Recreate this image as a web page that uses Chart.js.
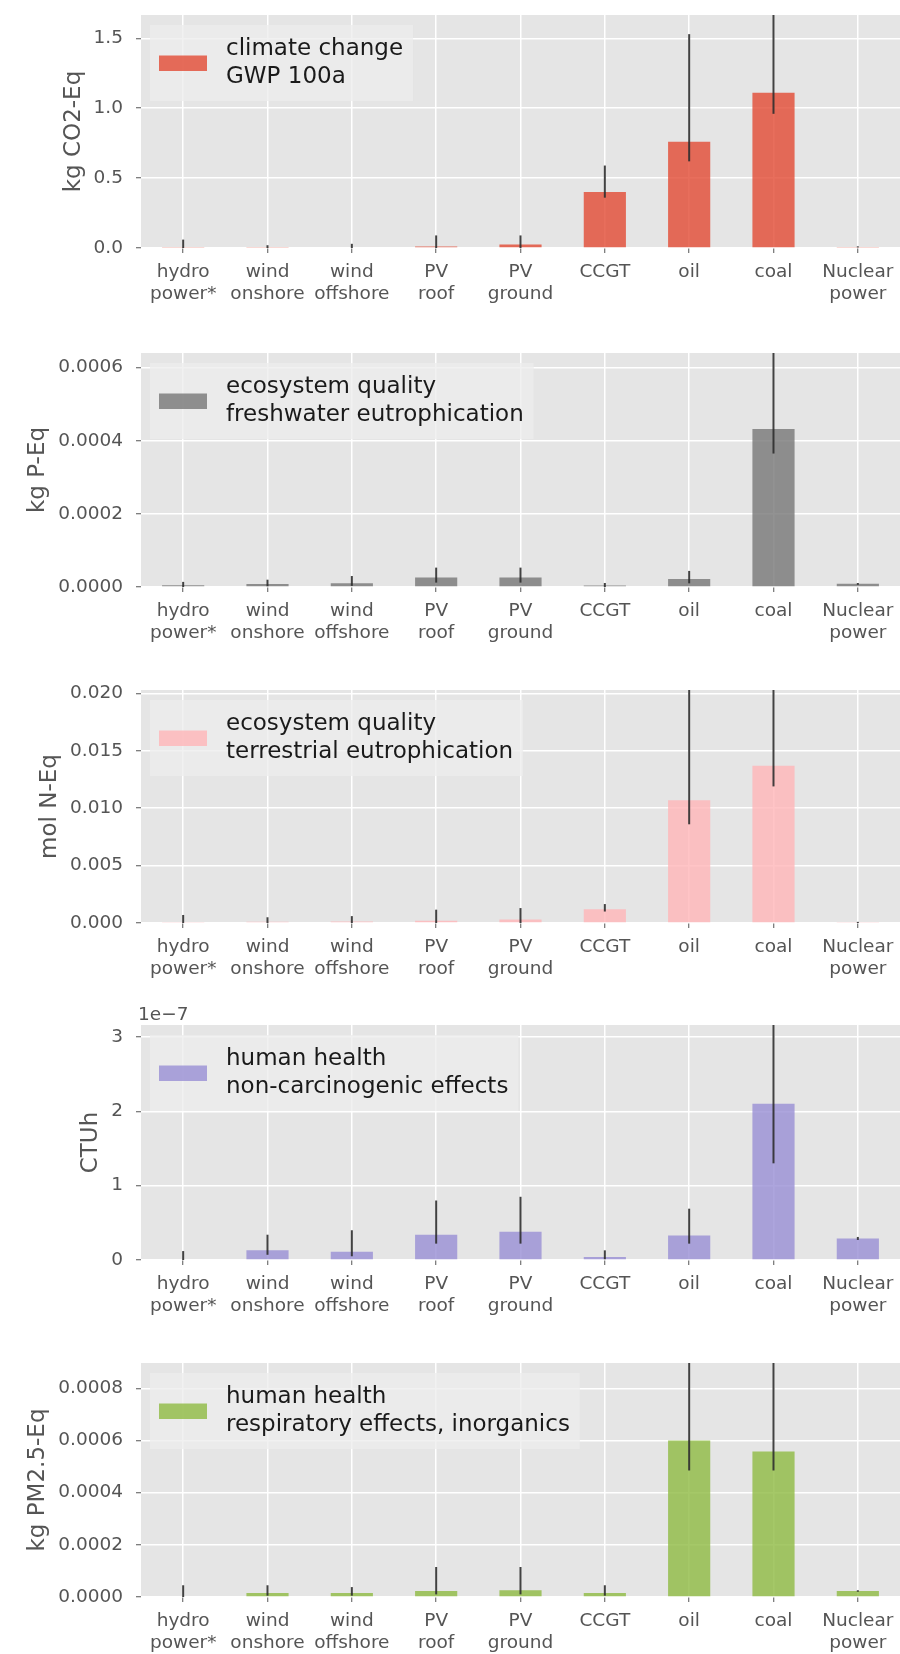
<!DOCTYPE html>
<html>
<head>
<meta charset="utf-8">
<script src="https://cdn.jsdelivr.net/npm/chart.js@4"></script>
<style>
  html, body { margin: 0; padding: 0; background: #ffffff; }
  body { width: 900px; height: 1654px; position: relative; overflow: hidden; }
  .panel { position: absolute; left: 0; width: 900px; }
</style>
</head>
<body>
<div class="panel" id="p1"></div>
<div class="panel" id="p2"></div>
<div class="panel" id="p3"></div>
<div class="panel" id="p4"></div>
<div class="panel" id="p5"></div>
<script>
// categories shared by all five panels
const categories = [
  ['hydro', 'power*'], ['wind', 'onshore'], ['wind', 'offshore'],
  ['PV', 'roof'], ['PV', 'ground'], ['CCGT'], ['oil'], ['coal'], ['Nuclear', 'power']
];

// climate change, kg CO2-Eq
const co2 = [0.003, 0.008, 0.006, 0.01, 0.025, 0.40, 0.76, 1.11, 0.008];
const co2Low = [0, 0, 0, 0, 0, 0.36, 0.62, 0.96, 0.004];
const co2High = [0.06, 0.02, 0.03, 0.09, 0.09, 0.59, 1.53, 1.9, 0.012];

// freshwater eutrophication, kg P-Eq
const pEq = [0.000005, 0.000008, 0.00001, 0.000026, 0.000026, 0.000004, 0.000022, 0.000432, 0.000009];
const pLow = [0, 0.000002, 0.000003, 0.000012, 0.000012, 0, 0.00001, 0.000365, 0.000006];
const pHigh = [0.000014, 0.00002, 0.00003, 0.000053, 0.000053, 0.000011, 0.000044, 0.0008, 0.000011];

// terrestrial eutrophication, mol N-Eq
const nEq = [0.00005, 0.0001, 0.00012, 0.0002, 0.0003, 0.0012, 0.0107, 0.0137, 0.00005];
const nLow = [0, 0, 0, 0, 0, 0.001, 0.0086, 0.0119, 0];
const nHigh = [0.0007, 0.0005, 0.0006, 0.00116, 0.0013, 0.00165, 0.025, 0.025, 0.0001];

// non-carcinogenic effects, CTUh
const ctuh = [0.01e-7, 0.13e-7, 0.11e-7, 0.34e-7, 0.38e-7, 0.04e-7, 0.33e-7, 2.1e-7, 0.29e-7];
const ctuhLow = [0, 0.07e-7, 0.05e-7, 0.22e-7, 0.22e-7, 0.01e-7, 0.22e-7, 1.3e-7, 0.27e-7];
const ctuhHigh = [0.12e-7, 0.34e-7, 0.40e-7, 0.80e-7, 0.85e-7, 0.13e-7, 0.69e-7, 3.5e-7, 0.31e-7];

// respiratory effects, kg PM2.5-Eq
const pm = [0.000003, 0.000015, 0.000015, 0.000023, 0.000026, 0.000015, 0.0006, 0.000558, 0.000023];
const pmLow = [0, 0.000005, 0.000005, 0.00001, 0.00001, 0.000005, 0.000485, 0.000485, 0.00002];
const pmHigh = [0.000045, 0.000045, 0.000038, 0.000115, 0.000115, 0.000045, 0.0012, 0.0012, 0.000026];

// legend texts
const co2Legend = ['climate change', 'GWP 100a'];
const pLegend = ['ecosystem quality', 'freshwater eutrophication'];
const nLegend = ['ecosystem quality', 'terrestrial eutrophication'];
const ctuhLegend = ['human health', 'non-carcinogenic effects'];
const pmLegend = ['human health', 'respiratory effects, inorganics'];

Chart.defaults.font.family = "'DejaVu Sans', sans-serif";
Chart.defaults.color = '#555555';

const PAD_TOP = 24, X_AXIS_H = 58, AXIS_LEFT = 141;
const TICK_FONT = 18.5, BIG_FONT = 23;

const panels = [
  { wrap: 'p1', plotTop: 15, plotH: 233, yMax: 1.667, step: 0.5, fmt: v => v.toFixed(1),
    color: 'rgba(226,74,51,0.8)', title: 'kg CO2-Eq', legend: co2Legend, values: co2, low: co2Low, high: co2High },
  { wrap: 'p2', plotTop: 353, plotH: 234, yMax: 0.00064, step: 0.0002, fmt: v => v.toFixed(4),
    color: 'rgba(119,119,119,0.8)', title: 'kg P-Eq', legend: pLegend, values: pEq, low: pLow, high: pHigh },
  { wrap: 'p3', plotTop: 690, plotH: 233, yMax: 0.0203, step: 0.005, fmt: v => v.toFixed(3),
    color: 'rgba(255,181,184,0.8)', title: 'mol N-Eq', legend: nLegend, values: nEq, low: nLow, high: nHigh },
  { wrap: 'p4', plotTop: 1025, plotH: 235, yMax: 3.16e-7, step: 1e-7, fmt: v => String(Math.round(v / 1e-7)),
    offsetText: '1e\u22127',
    color: 'rgba(152,142,213,0.8)', title: 'CTUh', legend: ctuhLegend, values: ctuh, low: ctuhLow, high: ctuhHigh },
  { wrap: 'p5', plotTop: 1363, plotH: 234, yMax: 0.000897, step: 0.0002, fmt: v => v.toFixed(4),
    color: 'rgba(142,186,66,0.8)', title: 'kg PM2.5-Eq', legend: pmLegend, values: pm, low: pmLow, high: pmHigh }
];

function makePanel(p) {
  const wrap = document.getElementById(p.wrap);
  const h = PAD_TOP + p.plotH + X_AXIS_H;
  wrap.style.top = (p.plotTop - PAD_TOP) + 'px';
  wrap.style.height = h + 'px';
  const canvas = document.createElement('canvas');
  canvas.width = 900;
  canvas.height = h;
  canvas.style.width = '900px';
  canvas.style.height = h + 'px';
  wrap.appendChild(canvas);

  // grey ggplot-like plot background
  const panelBg = {
    id: 'panelBg',
    beforeDraw(chart) {
      const { ctx, chartArea: a } = chart;
      ctx.save();
      ctx.fillStyle = '#E5E5E5';
      ctx.fillRect(a.left, a.top, a.right - a.left, a.bottom - a.top);
      ctx.restore();
    }
  };

  // faint legend frame above the grid, below the bars
  const legendBox = {
    id: 'legendBox',
    beforeDatasetsDraw(chart) {
      const { ctx, chartArea: a } = chart;
      ctx.save();
      ctx.font = BIG_FONT + "px 'DejaVu Sans'";
      const w = Math.max(...p.legend.map(t => ctx.measureText(t).width));
      ctx.fillStyle = 'rgba(236,236,236,0.75)';
      ctx.fillRect(a.left + 9, a.top + 10, 85 - 9 + w + 10, 76);
      ctx.restore();
    }
  };

  // asymmetric error bars from the low/high arrays, then the legend
  const errorBars = {
    id: 'errorBars',
    afterDatasetsDraw(chart) {
      const { ctx, chartArea: a, scales: { x, y } } = chart;
      ctx.save();
      ctx.beginPath();
      ctx.rect(a.left, a.top, a.right - a.left, a.bottom - a.top);
      ctx.clip();
      ctx.strokeStyle = 'rgba(45,45,45,0.9)';
      ctx.lineWidth = 2;
      p.values.forEach((v, i) => {
        const px = x.getPixelForValue(i);
        ctx.beginPath();
        ctx.moveTo(px, y.getPixelForValue(p.low[i]));
        ctx.lineTo(px, y.getPixelForValue(p.high[i]));
        ctx.stroke();
      });
      ctx.restore();

      ctx.save();
      ctx.fillStyle = p.color;
      ctx.fillRect(a.left + 18, a.top + 40.5, 48, 15.5);
      ctx.fillStyle = '#1a1a1a';
      ctx.font = BIG_FONT + "px 'DejaVu Sans'";
      ctx.textAlign = 'left';
      ctx.textBaseline = 'alphabetic';
      ctx.fillText(p.legend[0], a.left + 85, a.top + 40);
      ctx.fillText(p.legend[1], a.left + 85, a.top + 68);
      ctx.restore();
    }
  };

  // y title next to the tick labels, plus the 1e-7 offset text
  const yTitle = {
    id: 'yTitle',
    afterDraw(chart) {
      const { ctx, chartArea: a, scales: { y } } = chart;
      ctx.save();
      ctx.font = TICK_FONT + "px 'DejaVu Sans'";
      const maxW = Math.max(...y.ticks.map(t => ctx.measureText(String(t.label)).width));
      const tickLeft = a.left - 5 - 13 - maxW;
      if (p.offsetText) {
        ctx.fillStyle = '#555555';
        ctx.textAlign = 'left';
        ctx.textBaseline = 'middle';
        ctx.fillText(p.offsetText, a.left - 3, a.top - 10);
      }
      ctx.translate(tickLeft - 14, (a.top + a.bottom) / 2);
      ctx.rotate(-Math.PI / 2);
      ctx.font = BIG_FONT + "px 'DejaVu Sans'";
      ctx.fillStyle = '#555555';
      ctx.textAlign = 'center';
      ctx.textBaseline = 'alphabetic';
      ctx.fillText(p.title, 0, 0);
      ctx.restore();
    }
  };

  return new Chart(canvas.getContext('2d'), {
    type: 'bar',
    data: {
      labels: categories,
      datasets: [{
        data: p.values,
        backgroundColor: p.color,
        borderWidth: 0,
        barPercentage: 0.5,
        categoryPercentage: 1.0
      }]
    },
    options: {
      responsive: false,
      animation: false,
      devicePixelRatio: 1,
      layout: { padding: { top: PAD_TOP, left: 0, right: 0, bottom: 0 } },
      plugins: {
        legend: { display: false },
        tooltip: { enabled: false }
      },
      scales: {
        x: {
          type: 'category',
          offset: true,
          border: { display: false },
          grid: { offset: false, color: '#FFFFFF', lineWidth: 1.5, tickColor: '#555555', tickLength: 5, tickWidth: 1 },
          ticks: {
            autoSkip: false, maxRotation: 0, minRotation: 0, padding: 9,
            font: { size: TICK_FONT, lineHeight: 1.15 }, color: '#555555'
          },
          afterFit(scale) {
            scale.height = X_AXIS_H;
            scale.paddingLeft = 0;
            scale.paddingRight = 0;
          }
        },
        y: {
          min: 0,
          max: p.yMax,
          border: { display: false },
          grid: { color: '#FFFFFF', lineWidth: 1.5, tickColor: '#555555', tickLength: 5, tickWidth: 1 },
          ticks: {
            stepSize: p.step, includeBounds: false, padding: 13,
            font: { size: TICK_FONT }, color: '#555555',
            callback: v => p.fmt(v)
          },
          afterFit(scale) {
            scale.width = AXIS_LEFT;
            scale.paddingTop = 0;
            scale.paddingBottom = 0;
          }
        }
      }
    },
    plugins: [panelBg, legendBox, errorBars, yTitle]
  });
}

panels.forEach(makePanel);
</script>
</body>
</html>
